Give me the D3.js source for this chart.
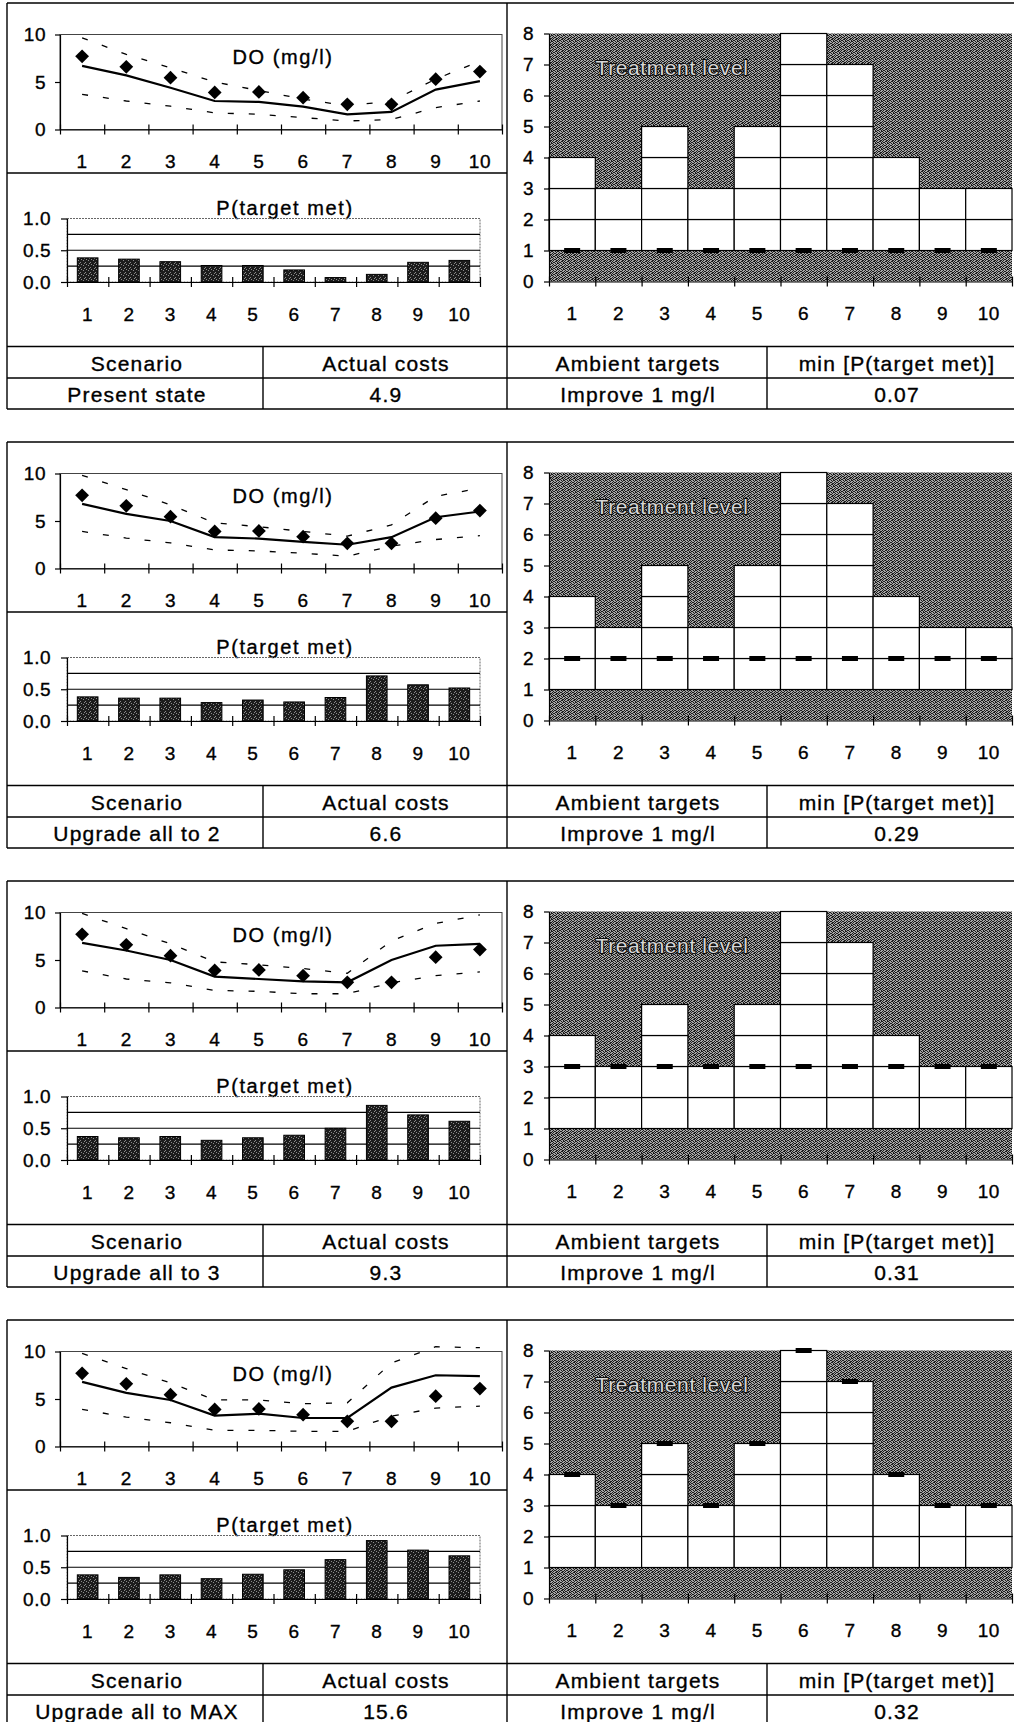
<!DOCTYPE html>
<html>
<head>
<meta charset="utf-8">
<script src="https://cdn.jsdelivr.net/npm/d3@7"></script>
<style>
body { margin: 0; background: #fff; }
svg { display: block; font-family: "Liberation Sans", Arial, sans-serif; }
.axis path, .axis line { stroke: #000; stroke-width: 1.2; }
.axis text { font-size: 19px; letter-spacing: 0.5px; fill: #000; stroke: #000; stroke-width: 0.35px; }
.lbl { font-size: 19px; letter-spacing: 0.5px; stroke: #000; stroke-width: 0.35px; }
.title { font-size: 20px; letter-spacing: 1.6px; stroke: #000; stroke-width: 0.35px; }
.cell { font-size: 21px; letter-spacing: 1.2px; stroke: #000; stroke-width: 0.35px; }
.frame { stroke: #000; stroke-width: 1.4; }
</style>
</head>
<body>
<div id="chart"></div>
<script>
// reaches along the river
var reaches = ["1", "2", "3", "4", "5", "6", "7", "8", "9", "10"];

// table texts, one per scenario
var scenarios = ["Present state", "Upgrade all to 2", "Upgrade all to 3", "Upgrade all to MAX"];
var actualCosts = ["4.9", "6.6", "9.3", "15.6"];
var ambientTargets = ["Improve 1 mg/l", "Improve 1 mg/l", "Improve 1 mg/l", "Improve 1 mg/l"];
var minPMet = ["0.07", "0.29", "0.31", "0.32"];

// observed DO (diamonds), same in every scenario
var observedDO = [7.7, 6.6, 5.45, 3.9, 3.95, 3.35, 2.65, 2.65, 5.3, 6.1];

// modelled DO per scenario: mean, upper and lower band
var doMean = [
    [6.7, 5.7, 4.4, 3.0, 2.9, 2.4, 1.6, 1.85, 4.2, 5.1],
    [6.8, 5.75, 5.0, 3.3, 3.15, 2.8, 2.5, 3.3, 5.4, 6.0],
    [6.8, 6.0, 5.0, 3.25, 3.0, 2.75, 2.65, 5.0, 6.5, 6.7],
    [6.8, 5.65, 4.9, 3.25, 3.45, 3.0, 3.0, 6.2, 7.5, 7.4]
];
var doUpper = [
    [9.65, 7.9, 6.5, 5.0, 4.1, 3.2, 2.5, 3.0, 5.3, 7.2],
    [9.8, 8.3, 6.7, 4.8, 4.4, 3.9, 3.4, 4.6, 7.6, 8.45],
    [9.9, 8.3, 6.7, 4.8, 4.5, 4.1, 3.6, 7.0, 8.85, 9.75],
    [9.8, 8.2, 6.7, 4.9, 4.9, 4.5, 4.6, 8.8, 10.5, 10.4]
];
var doLower = [
    [3.7, 3.0, 2.45, 1.75, 1.6, 1.25, 0.9, 1.05, 2.3, 3.0],
    [3.9, 3.2, 2.7, 1.95, 1.85, 1.6, 1.3, 2.35, 3.05, 3.45],
    [3.85, 3.0, 2.6, 1.8, 1.7, 1.45, 1.45, 2.6, 3.35, 3.75],
    [3.9, 3.1, 2.5, 1.7, 1.7, 1.6, 1.6, 3.2, 4.05, 4.25]
];

// P(target met) per scenario
var pMet = [
    [0.38, 0.36, 0.32, 0.26, 0.26, 0.19, 0.07, 0.12, 0.31, 0.34],
    [0.38, 0.36, 0.36, 0.29, 0.33, 0.30, 0.37, 0.71, 0.57, 0.52],
    [0.37, 0.35, 0.37, 0.31, 0.35, 0.39, 0.50, 0.86, 0.71, 0.61],
    [0.38, 0.34, 0.38, 0.32, 0.39, 0.46, 0.62, 0.92, 0.77, 0.68]
];

// treatment levels: highest possible and chosen per scenario
var maxLevel = [4, 3, 5, 3, 5, 8, 7, 4, 3, 3];
var treatLevel = [
    [1, 1, 1, 1, 1, 1, 1, 1, 1, 1],
    [2, 2, 2, 2, 2, 2, 2, 2, 2, 2],
    [3, 3, 3, 3, 3, 3, 3, 3, 3, 3],
    [4, 3, 5, 3, 5, 8, 7, 4, 3, 3]
];

var W = 1015, H = 1722;
var panelTop = [3, 442, 881, 1320];

var svg = d3.select("#chart").append("svg")
    .attr("width", W)
    .attr("height", H);

// stipple textures of the scan (fixed pixel tiles)
var defs = svg.append("defs");
function texture(id, size, base, dot, dots) {
    var p = defs.append("pattern").attr("id", id)
        .attr("width", size).attr("height", size).attr("patternUnits", "userSpaceOnUse");
    p.append("rect").attr("width", size).attr("height", size).attr("fill", base);
    dots.forEach(function(d) {
        p.append("rect").attr("x", d[0]).attr("y", d[1]).attr("width", 1).attr("height", 1).attr("fill", dot);
    });
}
texture("stip", 6, "#a4a4a4", "#1a1a1a", [
    [0, 0], [3, 0], [4, 0], [1, 1], [2, 1], [5, 1], [0, 2], [3, 2], [5, 2],
    [1, 3], [4, 3], [0, 4], [2, 4], [3, 4], [1, 5], [4, 5], [5, 5]
]);
texture("barTex", 5, "#1c1c1c", "#8a8a8a", [[1, 1], [3, 2], [0, 4], [4, 0]]);

function hline(g, x1, x2, y) {
    g.append("line").attr("class", "frame").attr("x1", x1).attr("x2", x2).attr("y1", y).attr("y2", y);
}
function vline(g, x, y1, y2) {
    g.append("line").attr("class", "frame").attr("x1", x).attr("x2", x).attr("y1", y1).attr("y2", y2);
}

// ticks that cross the x axis at the band edges
function crossTicks(g, scale, y) {
    g.append("g")
        .attr("class", "axis")
        .attr("transform", "translate(0," + y + ")")
        .call(d3.axisBottom(scale).tickValues(d3.range(0, 11)).tickSize(5).tickSizeOuter(0).tickFormat(""))
        .call(function(a) { a.selectAll(".tick line").attr("y1", -5); });
}

function bandLabels(g, band, y) {
    g.append("g").selectAll("text")
        .data(band.domain())
        .join("text")
        .attr("class", "lbl")
        .attr("x", function(d) { return band(d) + band.bandwidth() / 2; })
        .attr("y", y)
        .attr("dy", "0.35em")
        .attr("text-anchor", "middle")
        .text(function(d) { return d; });
}

function yAxis(g, scale, x, vals, fmt, size, pad) {
    g.append("g")
        .attr("class", "axis")
        .attr("transform", "translate(" + x + ",0)")
        .call(d3.axisLeft(scale).tickValues(vals).tickFormat(fmt).tickSize(size).tickSizeOuter(0).tickPadding(pad))
        .attr("font-family", null).attr("font-size", null);
}

function drawPanel(g, i) {
    // ---- DO chart
    var xDO = d3.scaleLinear().domain([0, 10]).range([60, 502]);
    var bDO = d3.scaleBand().domain(reaches).range([60, 502]);
    var yDO = d3.scaleLinear().domain([0, 10]).range([126.5, 31.5]);
    var cx = function(j) { return bDO(reaches[j]) + bDO.bandwidth() / 2; };

    g.append("rect")
        .attr("x", xDO(0)).attr("y", yDO(10))
        .attr("width", xDO(10) - xDO(0)).attr("height", yDO(0) - yDO(10))
        .attr("fill", "none").attr("stroke", "#444").attr("stroke-width", 1);
    yAxis(g, yDO, xDO(0), [0, 5, 10], d3.format("d"), 5, 9);
    crossTicks(g, xDO, yDO(0));
    bandLabels(g, bDO, 158);

    g.append("text").attr("class", "title")
        .attr("x", 283).attr("y", 54).attr("dy", "0.35em")
        .attr("text-anchor", "middle").text("DO (mg/l)");

    var line = d3.line()
        .x(function(d, j) { return cx(j); })
        .y(function(d) { return yDO(d); });

    [doUpper[i], doLower[i]].forEach(function(s) {
        g.append("path").datum(s)
            .attr("d", line)
            .attr("fill", "none").attr("stroke", "#000")
            .attr("stroke-width", 1.3).attr("stroke-dasharray", "6,15");
    });
    g.append("path").datum(doMean[i])
        .attr("d", line)
        .attr("fill", "none").attr("stroke", "#000").attr("stroke-width", 2.2);

    g.append("g").selectAll("path")
        .data(observedDO)
        .join("path")
        .attr("d", d3.symbol(d3.symbolSquare, 95))
        .attr("transform", function(d, j) { return "translate(" + cx(j) + "," + yDO(d) + ") rotate(45)"; })
        .attr("fill", "#000");

    // ---- P(target met) chart
    var xP = d3.scaleLinear().domain([0, 10]).range([67, 480]);
    var bP = d3.scaleBand().domain(reaches).range([67, 480]).paddingInner(0.5).paddingOuter(0.25);
    var yP = d3.scaleLinear().domain([0, 1]).range([279, 215.5]);

    g.append("text").attr("class", "title")
        .attr("x", 285).attr("y", 212)
        .attr("text-anchor", "middle").text("P(target met)");

    g.append("rect")
        .attr("x", xP(0)).attr("y", yP(1))
        .attr("width", xP(10) - xP(0)).attr("height", yP(0) - yP(1))
        .attr("fill", "none").attr("stroke", "#666").attr("stroke-width", 1)
        .attr("stroke-dasharray", "2,1");
    g.append("g").selectAll("line")
        .data([0.25, 0.5, 0.75])
        .join("line")
        .attr("x1", xP(0)).attr("x2", xP(10))
        .attr("y1", function(d) { return yP(d); }).attr("y2", function(d) { return yP(d); })
        .attr("stroke", "#000").attr("stroke-width", 1.2);

    g.append("g").selectAll("rect")
        .data(pMet[i])
        .join("rect")
        .attr("x", function(d, j) { return bP(reaches[j]); })
        .attr("y", function(d) { return yP(d); })
        .attr("width", bP.bandwidth())
        .attr("height", function(d) { return yP(0) - yP(d); })
        .attr("fill", "url(#barTex)").attr("stroke", "#000").attr("stroke-width", 1);

    yAxis(g, yP, xP(0), [0, 0.5, 1], d3.format(".1f"), 6, 10);
    crossTicks(g, xP, yP(0));
    bandLabels(g, bP, 311.5);

    // ---- treatment level chart
    var xT = d3.scaleLinear().domain([0, 10]).range([549, 1012]);
    var bT = d3.scaleBand().domain(reaches).range([549, 1012]);
    var yT = d3.scaleLinear().domain([0, 8]).range([278.5, 30.5]);

    g.append("rect")
        .attr("x", xT(0)).attr("y", yT(8))
        .attr("width", xT(10) - xT(0)).attr("height", yT(0) - yT(8))
        .attr("fill", "url(#stip)");

    // one white cell per available level above the base
    var cells = [];
    maxLevel.forEach(function(m, j) {
        d3.range(1, m).forEach(function(k) { cells.push({r: reaches[j], k: k}); });
    });
    g.append("g").selectAll("rect")
        .data(cells)
        .join("rect")
        .attr("x", function(d) { return bT(d.r); })
        .attr("y", function(d) { return yT(d.k + 1); })
        .attr("width", bT.bandwidth())
        .attr("height", yT(0) - yT(1))
        .attr("fill", "#fff").attr("stroke", "#000").attr("stroke-width", 1.2);

    g.append("g").selectAll("rect")
        .data(treatLevel[i])
        .join("rect")
        .attr("x", function(d, j) { return bT(reaches[j]) + bT.bandwidth() / 2 - 8; })
        .attr("y", function(d) { return yT(d) - 2.5; })
        .attr("width", 16).attr("height", 5)
        .attr("fill", "#000");

    g.append("text")
        .attr("x", 672).attr("y", 65).attr("dy", "0.35em")
        .attr("text-anchor", "middle")
        .style("letter-spacing", "0.6px").style("font-size", "21px")
        .attr("fill", "#d6d6d6").attr("stroke", "#111").attr("stroke-width", 2.2)
        .attr("paint-order", "stroke")
        .text("Treatment level");

    yAxis(g, yT, xT(0), d3.range(0, 9), d3.format("d"), 5, 10);
    crossTicks(g, xT, yT(0));
    bandLabels(g, bT, 310);

    // ---- frames and table
    hline(g, 7, 1014, 0);
    vline(g, 7, 0, 406);
    vline(g, 507, 0, 406);
    hline(g, 7, 507, 170);
    hline(g, 7, 1014, 343.5);
    hline(g, 7, 1014, 375);
    hline(g, 7, 1014, 406);
    vline(g, 263, 343.5, 406);
    vline(g, 767, 343.5, 406);

    var cols = [137, 386, 638, 897];
    var head = ["Scenario", "Actual costs", "Ambient targets", "min [P(target met)]"];
    var row = [scenarios[i], actualCosts[i], ambientTargets[i], minPMet[i]];
    [head, row].forEach(function(r, ri) {
        g.append("g").selectAll("text")
            .data(r)
            .join("text")
            .attr("class", "cell")
            .attr("x", function(d, c) { return cols[c]; })
            .attr("y", ri === 0 ? 361 : 391.5)
            .attr("dy", "0.35em")
            .attr("text-anchor", "middle")
            .text(function(d) { return d; });
    });
}

scenarios.forEach(function(s, i) {
    var g = svg.append("g").attr("transform", "translate(0," + panelTop[i] + ")");
    drawPanel(g, i);
});
</script>
</body>
</html>
